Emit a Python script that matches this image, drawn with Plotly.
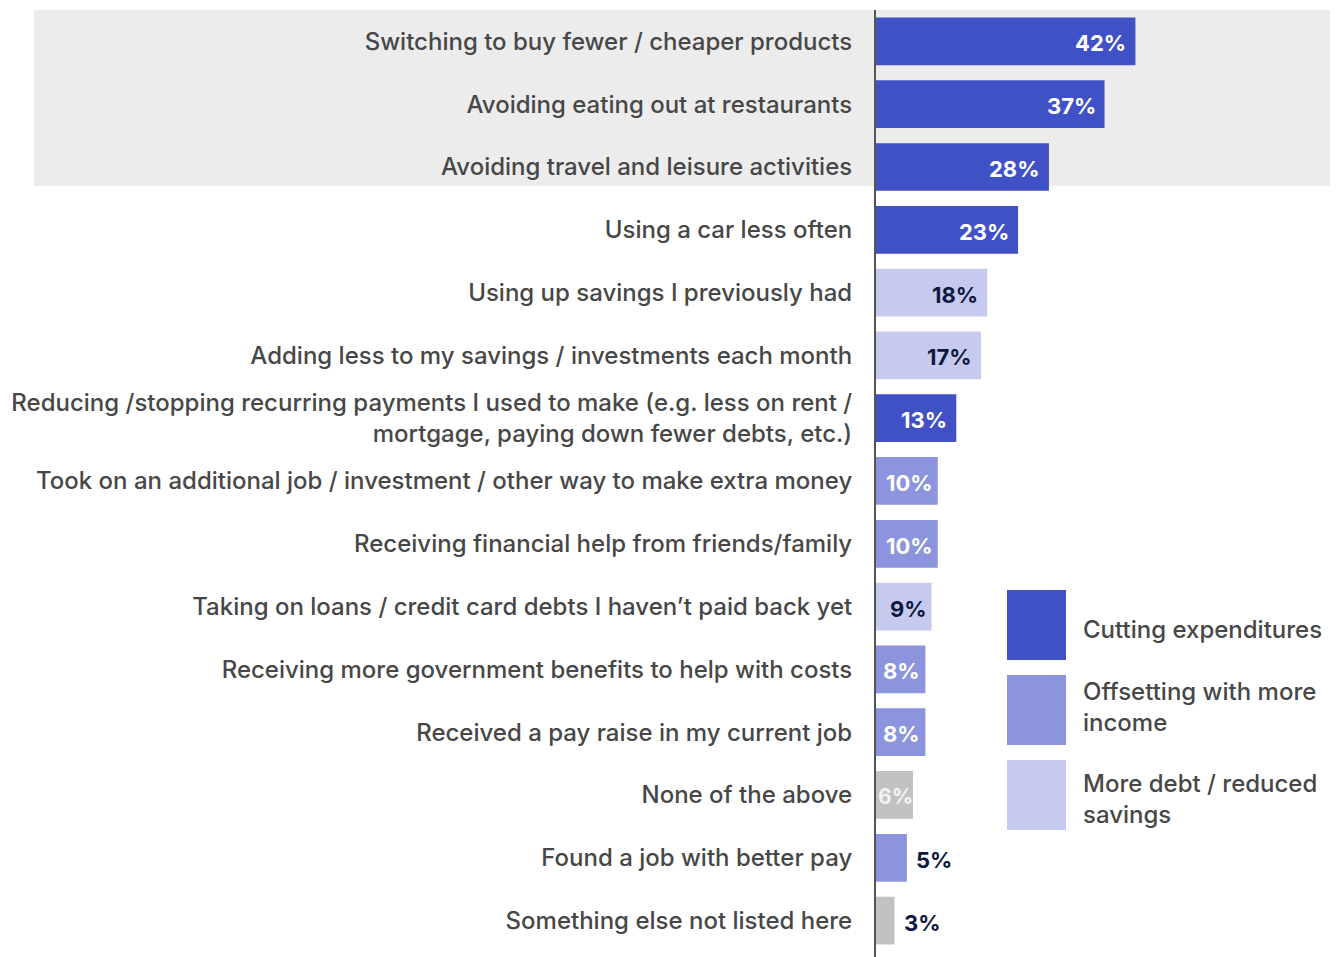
import plotly.graph_objects as go

# Survey responses: how people coped with rising costs
categories = [
    "Switching to buy fewer / cheaper products",
    "Avoiding eating out at restaurants",
    "Avoiding travel and leisure activities",
    "Using a car less often",
    "Using up savings I previously had",
    "Adding less to my savings / investments each month",
    "Reducing /stopping recurring payments I used to make (e.g. less on rent /<br>mortgage, paying down fewer debts, etc.)",
    "Took on an additional job / investment / other way to make extra money",
    "Receiving financial help from friends/family",
    "Taking on loans / credit card debts I haven\u2019t paid back yet",
    "Receiving more government benefits to help with costs",
    "Received a pay raise in my current job",
    "None of the above",
    "Found a job with better pay",
    "Something else not listed here",
]
values = [42, 37, 28, 23, 18, 17, 13, 10, 10, 9, 8, 8, 6, 5, 3]
groups = [
    "Cutting expenditures", "Cutting expenditures", "Cutting expenditures",
    "Cutting expenditures", "More debt / reduced savings", "More debt / reduced savings",
    "Cutting expenditures", "Offsetting with more income", "Offsetting with more income",
    "More debt / reduced savings", "Offsetting with more income", "Offsetting with more income",
    "Other", "Offsetting with more income", "Other",
]
legend_groups = ["Cutting expenditures", "Offsetting with more income", "More debt / reduced savings"]
legend_text = ["Cutting expenditures", "Offsetting with more<br>income", "More debt / reduced<br>savings"]

colors = {
    "Cutting expenditures": "#4051c6",
    "Offsetting with more income": "#8b94dc",
    "More debt / reduced savings": "#c7caef",
    "Other": "#c2c2c2",
}
label_colors = {
    "Cutting expenditures": "#ffffff",
    "Offsetting with more income": "#ffffff",
    "More debt / reduced savings": "#0e1a3d",
    "Other": "#f2f2f2",
}
NAVY = "#0e1a3d"
TEXT = "#474747"
FONT = "Inter, 'Noto Sans', sans-serif"

W, H = 1340, 957
ML, MR, MT, MB = 876, 10, 10, 0
PW, PH = W - ML - MR, H - MT - MB


def px_x(px):
    return (px - ML) / PW


def px_y(py):
    return 1 - (py - MT) / PH


fig = go.Figure()

for g in ["Cutting expenditures", "Offsetting with more income", "More debt / reduced savings", "Other"]:
    ys = [c for c, gg in zip(categories, groups) if gg == g]
    xs = [v for v, gg in zip(values, groups) if gg == g]
    fig.add_trace(go.Bar(
        x=xs, y=ys, orientation="h", name=g,
        marker=dict(color=colors[g], line=dict(width=0)),
        showlegend=False, hoverinfo="skip",
    ))

# value labels: outside for the smallest bars, at the base for very
# narrow bars, otherwise inside at the bar end
annotations = []
for c, v, g in zip(categories, values, groups):
    label = f"<b>{v}%</b>"
    if v <= 5:
        annotations.append(dict(
            x=v, y=c, xref="x", yref="y", text=label, showarrow=False,
            xanchor="left", xshift=7, yshift=-2,
            font=dict(family=FONT, size=22, color=NAVY),
        ))
    elif v <= 6:
        annotations.append(dict(
            x=0, y=c, xref="x", yref="y", text=label, showarrow=False,
            xanchor="left", xshift=0, yshift=-2,
            font=dict(family=FONT, size=21, color=label_colors[g]),
        ))
    else:
        annotations.append(dict(
            x=v, y=c, xref="x", yref="y", text=label, showarrow=False,
            xanchor="right", xshift=-7 if v > 10 else -3, yshift=-2,
            font=dict(family=FONT, size=22, color=label_colors[g]),
        ))

shapes = [
    # highlight band behind the top three rows
    dict(type="rect", xref="paper", yref="paper",
         x0=px_x(34), x1=px_x(1330), y0=px_y(186), y1=px_y(10),
         fillcolor="#ececec", line=dict(width=0), layer="below"),
]

# custom legend with large swatches
sw_top = [590, 675, 760]
sw_mid = [629, 707, 799]
for g, t, top, mid in zip(legend_groups, legend_text, sw_top, sw_mid):
    shapes.append(dict(
        type="rect", xref="paper", yref="paper",
        x0=px_x(1007), x1=px_x(1066), y0=px_y(top + 70), y1=px_y(top),
        fillcolor=colors[g], line=dict(width=0),
    ))
    annotations.append(dict(
        x=px_x(1081), y=px_y(mid), xref="paper", yref="paper", text=t,
        showarrow=False, xanchor="left", yanchor="middle", align="left",
        font=dict(family=FONT, size=24, color=TEXT, weight=500),
    ))

fig.update_layout(
    width=W, height=H,
    margin=dict(l=ML, r=MR, t=MT, b=MB),
    paper_bgcolor="#ffffff",
    plot_bgcolor="rgba(0,0,0,0)",
    barmode="relative",
    bargap=0.24,
    shapes=shapes,
    annotations=annotations,
    xaxis=dict(range=[0, 73.5], showgrid=False, zeroline=False, showticklabels=False,
               showline=False, fixedrange=True),
    yaxis=dict(type="category", categoryorder="array", categoryarray=categories,
               range=[14.58, -0.5], showgrid=False, zeroline=False,
               showline=True, linecolor="#555555", linewidth=2,
               ticks="", ticklabelstandoff=17,
               tickfont=dict(family=FONT, size=24, color=TEXT, weight=500),
               fixedrange=True),
)

fig.write_html("out.html")
